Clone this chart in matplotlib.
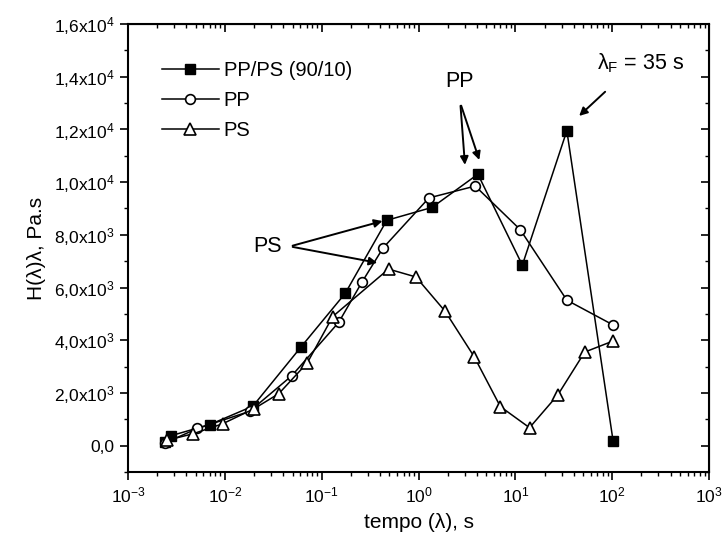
import numpy as np
import matplotlib
matplotlib.use('Agg')
import matplotlib.pyplot as plt
from matplotlib.ticker import FuncFormatter, MultipleLocator, LogLocator, NullFormatter

plt.rcParams['font.family'] = ['Liberation Sans', 'DejaVu Sans']
plt.rcParams['mathtext.default'] = 'regular'

# PP/PS (90/10) - quadrados cheios
t_blend = [0.0024, 0.0028, 0.0070, 0.0195, 0.061, 0.175, 0.47, 1.38, 4.1, 11.8, 34, 102]
h_blend = [150, 380, 800, 1500, 3740, 5780, 8550, 9040, 10300, 6850, 11950, 190]

# PP - circulos abertos
t_pp = [0.0024, 0.0052, 0.018, 0.049, 0.15, 0.26, 0.43, 1.28, 3.85, 11.2, 34, 102]
h_pp = [100, 650, 1300, 2650, 4680, 6200, 7500, 9400, 9850, 8200, 5520, 4580]

# PS - triangulos abertos
t_ps = [0.0025, 0.0047, 0.0095, 0.020, 0.036, 0.071, 0.13, 0.49, 0.94, 1.88, 3.76, 7.0, 14, 27.5, 52, 102]
h_ps = [200, 450, 830, 1400, 1970, 3140, 4900, 6700, 6400, 5100, 3370, 1480, 680, 1930, 3550, 3970]


def sci_comma(v, pos):
    if abs(v) < 1e-9:
        return '0,0'
    e = int(np.floor(np.log10(abs(v))))
    m = v / 10 ** e
    s = f'{m:.1f}'.replace('.', ',')
    return f'{s}x10$^{{{e}}}$'


fig = plt.figure(figsize=(7.25, 5.43), dpi=100)
ax = fig.add_axes([0.1766, 0.1308, 0.8014, 0.825])

ax.plot(t_blend, h_blend, '-', color='black', lw=1.1, marker='s', ms=7,
        mfc='black', mec='black', label='PP/PS (90/10)')
ax.plot(t_pp, h_pp, '-', color='black', lw=1.1, marker='o', ms=7,
        mfc='white', mec='black', mew=1.2, label='PP')
ax.plot(t_ps, h_ps, '-', color='black', lw=1.1, marker='^', ms=8,
        mfc='white', mec='black', mew=1.2, label='PS')

ax.set_xscale('log')
ax.set_xlim(1e-3, 1e3)
ax.set_ylim(-1000, 16000)

ax.yaxis.set_major_locator(MultipleLocator(2000))
ax.yaxis.set_minor_locator(MultipleLocator(1000))
ax.yaxis.set_major_formatter(FuncFormatter(sci_comma))
ax.xaxis.set_major_locator(LogLocator(base=10, numticks=10))
ax.xaxis.set_minor_locator(LogLocator(base=10, subs=np.arange(2, 10), numticks=20))
ax.xaxis.set_minor_formatter(NullFormatter())

ax.tick_params(which='major', direction='out', length=6, width=1.2, labelsize=12.5)
ax.tick_params(which='minor', direction='out', length=3, width=1)
for sp in ax.spines.values():
    sp.set_linewidth(1.5)

top = ax.secondary_xaxis('top')
top.xaxis.set_major_locator(LogLocator(base=10, numticks=10))
top.xaxis.set_minor_locator(LogLocator(base=10, subs=np.arange(2, 10), numticks=20))
top.tick_params(which='major', direction='in', length=6, width=1.2, labeltop=False)
top.tick_params(which='minor', direction='in', length=3, width=1)
top.xaxis.set_minor_formatter(NullFormatter())

right = ax.secondary_yaxis('right')
right.yaxis.set_major_locator(MultipleLocator(2000))
right.yaxis.set_minor_locator(MultipleLocator(1000))
right.tick_params(which='major', direction='in', length=6, width=1.2, labelright=False)
right.tick_params(which='minor', direction='in', length=3, width=1)

ax.set_xlabel('tempo (λ), s', fontsize=15, labelpad=6)
ax.set_ylabel('H(λ)λ, Pa.s', fontsize=15, labelpad=6)

ax.legend(loc='upper left', bbox_to_anchor=(0.045, 0.935), frameon=False,
          fontsize=14.5, handlelength=2.8, handletextpad=0.25, labelspacing=0.55,
          borderaxespad=0)

arrow = dict(arrowstyle='-|>', color='black', lw=1.4, mutation_scale=12)

ax.text(2.63, 13800, 'PP', fontsize=15.5, ha='center', va='center')
ax.annotate('', xy=(3.03, 10550), xytext=(2.70, 13000), arrowprops=arrow)
ax.annotate('', xy=(4.33, 10740), xytext=(2.70, 13000), arrowprops=arrow)

ax.text(0.0279, 7560, 'PS', fontsize=15.5, ha='center', va='center')
ax.annotate('', xy=(0.452, 8550), xytext=(0.047, 7560), arrowprops=arrow)
ax.annotate('', xy=(0.40, 6920), xytext=(0.047, 7560), arrowprops=arrow)

ax.text(70, 14520, 'λ$_F$ = 35 s', fontsize=15.5, ha='left', va='center')
ax.annotate('', xy=(43.4, 12440), xytext=(88.7, 13500), arrowprops=arrow)

fig.savefig('out.png', dpi=100)
